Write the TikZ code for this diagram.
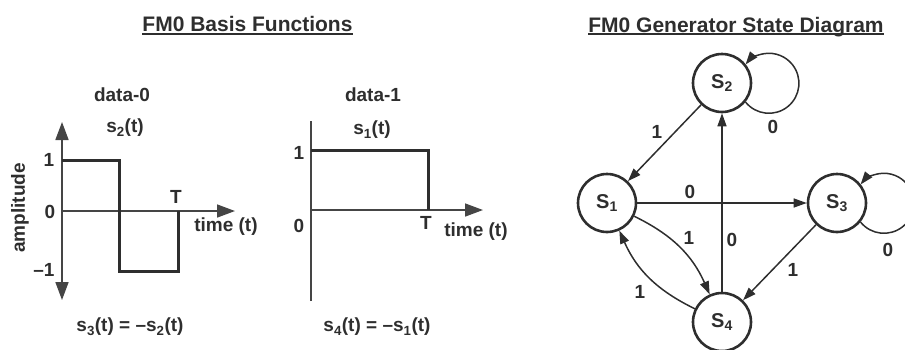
\documentclass[tikz,border=0pt]{standalone}
\usepackage{fontspec}
\setmainfont{Liberation Sans}
\usetikzlibrary{arrows.meta}
\definecolor{ink}{HTML}{2E2E2E}
\definecolor{axisc}{HTML}{454545}
\begin{document}
\begin{tikzpicture}[x=1pt,y=1pt,
  lbl/.style={font=\fontsize{19}{22}\selectfont\bfseries, text=ink, inner sep=0pt},
  head/.style={font=\fontsize{21}{24}\selectfont\bfseries, text=ink, inner sep=0pt, anchor=base},
  axisline/.style={draw=axisc, line width=1.6pt},
  bigtip/.style={-{Triangle[length=18pt,width=13pt]}},
  wave/.style={draw=ink, line width=3pt, line join=miter},
  state/.style={circle, draw=ink, line width=2.6pt, minimum size=58pt, inner sep=0pt,
    font=\fontsize{20}{22}\selectfont\bfseries, text=ink},
  edge/.style={draw=ink, line width=1.5pt, -{Triangle[length=13pt,width=9pt]}},
  uline/.style={draw=ink, line width=1.8pt}
]
\useasboundingbox (0,0) rectangle (905,-349);

% headings
\node[head] (h1) at (247.5,-31.7) {FM0 Basis Functions};
\draw[uline] ([yshift=-2pt]h1.base west) -- ([yshift=-2pt]h1.base east);
\node[head] (h2) at (736,-32.3) {FM0 Generator State Diagram};
\draw[uline] ([yshift=-2pt]h2.base west) -- ([yshift=-2pt]h2.base east);

% left plot (data-0)
\coordinate (la-bot) at (62,-300);
\coordinate (la-top) at (62,-122);
\coordinate (la-org) at (62,-211);
\coordinate (la-end) at (235,-211);
\draw[axisline, {Triangle[length=18pt,width=13pt]}-{Triangle[length=18pt,width=13pt]}] (la-bot) -- (la-top);
\draw[axisline, bigtip] (la-org) -- (la-end);
\draw[wave] (62,-160) -- (119,-160) -- (119,-271) -- (178,-271) -- (178,-211);
\node[lbl] (l1a) at (49,-160) {1};
\node[lbl] (l0a) at (50,-212) {0};
\node[lbl] (lm1a) at (44,-270) {–1};
\node[lbl, rotate=90] (amp) at (20,-208) {amplitude};
\node[lbl] (Ta) at (176,-197) {T};
\node[lbl] (ta) at (226,-227) {time (t)};
\node[lbl] (d0) at (122,-95) {data-0};
\node[lbl] (s2t) at (125,-128) {s\textsubscript{2}(t)};
\node[lbl] (s3eq) at (130,-327) {s\textsubscript{3}(t) = –s\textsubscript{2}(t)};

% middle plot (data-1)
\coordinate (ma-bot) at (311,-301);
\coordinate (ma-top) at (311,-121);
\coordinate (ma-org) at (311,-210);
\coordinate (ma-end) at (483,-210);
\draw[axisline] (ma-bot) -- (ma-top);
\draw[axisline, bigtip] (ma-org) -- (ma-end);
\draw[wave] (311,-150) -- (428,-150) -- (428,-210);
\node[lbl] (l1b) at (299,-153) {1};
\node[lbl] (l0b) at (299,-226) {0};
\node[lbl] (Tb) at (426,-223) {T};
\node[lbl] (tb) at (476,-232) {time (t)};
\node[lbl] (d1) at (373,-95) {data-1};
\node[lbl] (s1t) at (372,-130) {s\textsubscript{1}(t)};
\node[lbl] (s4eq) at (377,-327) {s\textsubscript{4}(t) = –s\textsubscript{1}(t)};

% state diagram
\node[state] (s1) at (607,-203) {S\textsubscript{1}};
\node[state] (s2) at (722,-83) {S\textsubscript{2}};
\node[state] (s3) at (837,-203) {S\textsubscript{3}};
\node[state] (s4) at (722,-322) {S\textsubscript{4}};

\draw[edge] (s2) -- (s1);
\draw[edge] (s1) -- (s3);
\draw[edge] (s4) -- (s2);
\draw[edge] (s1) to[bend left=20] (s4);
\draw[edge] (s4) to[bend left=20] (s1);
\draw[edge] (s3) -- (s4);
\draw[edge] (s2.-39) arc[start angle=218.8, end angle=501.2, radius=30];
\draw[edge] (s3.-39) arc[start angle=218.8, end angle=501.2, radius=30];

\node[lbl] (e21) at (657,-132) {1};
\node[lbl] (e22) at (773,-127) {0};
\node[lbl] (e13) at (690,-192) {0};
\node[lbl] (e42) at (732,-240) {0};
\node[lbl] (e14) at (689,-238) {1};
\node[lbl] (e41) at (640,-292) {1};
\node[lbl] (e34) at (793,-270) {1};
\node[lbl] (e33) at (888,-250) {0};
\end{tikzpicture}
\end{document}
